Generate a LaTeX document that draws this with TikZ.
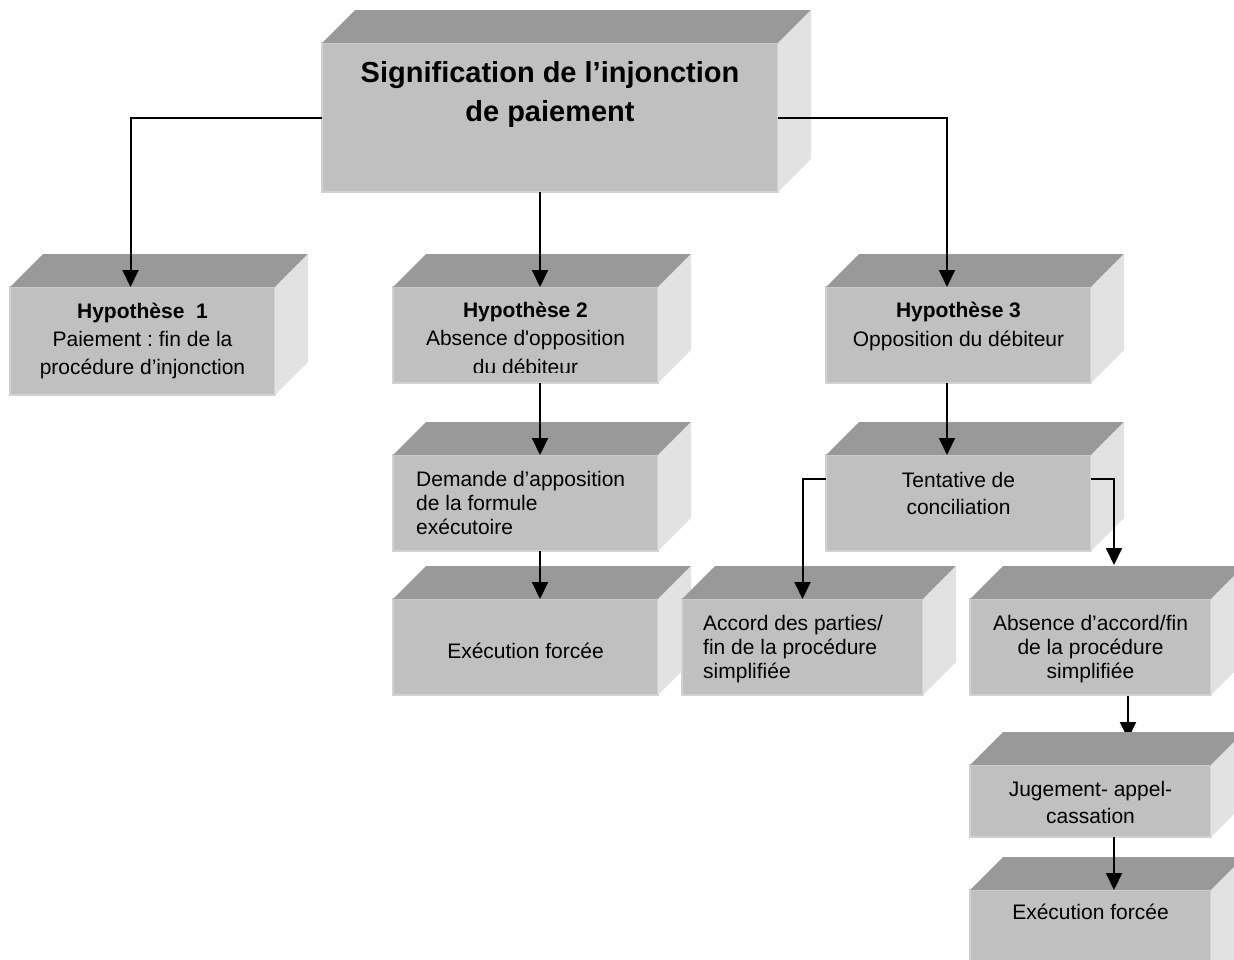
\documentclass[tikz,border=0pt]{standalone}
\usepackage{fontspec}
\setmainfont{Liberation Sans}
\newfontfamily\plainfont{Liberation Sans}
\frenchspacing
\usetikzlibrary{arrows.meta,backgrounds}
\definecolor{facegray}{HTML}{C0C0C0}
\definecolor{topgray}{HTML}{999999}
\definecolor{sidegray}{HTML}{E2E2E2}
\definecolor{edgegray}{HTML}{D2D2D2}
\tikzset{
  boxfront/.style={draw=edgegray, line width=1.2pt, fill=facegray,
                   inner sep=0pt, outer sep=0pt},
  boxtop/.style={fill=topgray},
  boxside/.style={fill=sidegray},
  boxtxt/.style={inner sep=0pt, align=center, font=\fontsize{21}{28}\selectfont},
  link/.style={line width=2pt, -{Triangle[length=17pt,width=16pt]}},
}
% front face as a node, top and side faces drawn from its anchors
\newcommand{\bloc}[4]{%
  \node[boxfront, minimum width=#3, minimum height=#4] (#1) at #2 {};
  \fill[boxtop] (#1.north west) -- ([xshift=33pt,yshift=33pt]#1.north west)
    -- ([xshift=33pt,yshift=33pt]#1.north east) -- (#1.north east) -- cycle;
  \fill[boxside] (#1.north east) -- ([xshift=33pt,yshift=33pt]#1.north east)
    -- ([xshift=33pt,yshift=33pt]#1.south east) -- (#1.south east) -- cycle;
}

\begin{document}
\begin{tikzpicture}[x=1pt, y=-1pt]
  \useasboundingbox (0,0) rectangle (1234,959);
  \clip (0,0) rectangle (1234,959);

  % boxes
  \bloc{sig}{(550,117.5)}{456pt}{149pt}
  \bloc{hyp1}{(142.5,341)}{265pt}{108pt}
  \bloc{hyp2}{(525.5,335)}{265pt}{96pt}
  \bloc{hyp3}{(958.5,335)}{265pt}{96pt}
  \bloc{dem}{(525.5,503)}{265pt}{96pt}
  \bloc{tent}{(958.5,503)}{265pt}{96pt}
  \bloc{exec}{(525.5,647)}{265pt}{96pt}
  \bloc{accord}{(802.5,647)}{241pt}{96pt}
  \bloc{desaccord}{(1090.5,647)}{241pt}{96pt}
  \bloc{jug}{(1090.5,801)}{241pt}{72pt}
  \bloc{execb}{(1090.5,937)}{241pt}{94pt}

  % texts (base = last line)
  \node[boxtxt, anchor=base, font=\fontsize{29}{39}\selectfont\bfseries] (sigt)
    at ([yshift=-78pt]sig.north) {Signification de l’injonction\\de paiement};
  \node[boxtxt, anchor=base] (hyp1t) at ([yshift=-87pt]hyp1.north)
    {\textbf{Hypothèse\ \ 1}\\Paiement : fin de la\\procédure d’injonction};
  \begin{scope}
    \clip (hyp2.north west) rectangle ([yshift=11pt]hyp2.south east);
    \node[boxtxt, anchor=base, font=\fontsize{21}{28.5}\selectfont] (hyp2t)
      at ([yshift=-87pt]hyp2.north)
      {\textbf{Hypothèse 2}\\Absence d{\plainfont '}opposition\\du débiteur};
  \end{scope}
  \node[boxtxt, anchor=base, font=\fontsize{21}{29}\selectfont] (hyp3t)
    at ([yshift=-59pt]hyp3.north) {\textbf{Hypothèse 3}\\Opposition du débiteur};
  \node[boxtxt, anchor=base west, align=left, font=\fontsize{21}{24}\selectfont] (demt)
    at ([xshift=23pt,yshift=-79pt]dem.north west)
    {Demande d’apposition\\de la formule\\exécutoire};
  \node[boxtxt, anchor=base, font=\fontsize{21}{27}\selectfont] (tentt)
    at ([yshift=-59pt]tent.north) {Tentative de\\conciliation};
  \node[boxtxt, anchor=base] (exect) at ([yshift=-11pt]exec.center) {Exécution forcée};
  \node[boxtxt, anchor=base west, align=left, font=\fontsize{21}{24}\selectfont] (accordt)
    at ([xshift=21pt,yshift=-79pt]accord.north west)
    {Accord des parties/\\fin de la procédure\\simplifiée};
  \node[boxtxt, anchor=base, font=\fontsize{21}{24}\selectfont] (desaccordt)
    at ([yshift=-79pt]desaccord.north)
    {Absence d’accord/fin\\de la procédure\\simplifiée};
  \node[boxtxt, anchor=base, font=\fontsize{21}{27}\selectfont] (jugt)
    at ([yshift=-58pt]jug.north) {Jugement- appel-\\cassation};
  \node[boxtxt, anchor=base] (execbt) at ([yshift=-29pt]execb.north) {Exécution forcée};

  % connectors
  \draw[link] (sig.west) -| ([xshift=-12pt]hyp1.north);
  \draw[link] ([xshift=-10pt]sig.south) -- ([xshift=-10pt]sig.south |- hyp2.north);
  \draw[link] (sig.east) -| ([xshift=-11.5pt]hyp3.north);
  \draw[link] ([xshift=14.5pt]hyp2.south) -- ([xshift=14.5pt]dem.north);
  \draw[link] ([xshift=14.5pt]dem.south) -- ([xshift=14.5pt]exec.north);
  \draw[link] ([xshift=-11.5pt]hyp3.south) -- ([xshift=-11.5pt]tent.north);
  \draw[link] ([yshift=24pt]tent.west) -| (accord.north);
  \draw[link] ([yshift=24pt]tent.east) -| ([xshift=23.5pt,yshift=34pt]desaccord.north);
  \begin{pgfonlayer}{background}
    \draw[link] ([xshift=37.5pt]desaccord.south) -- ([xshift=37.5pt,yshift=26pt]jug.north);
  \end{pgfonlayer}
  \draw[link] ([xshift=23.5pt]jug.south) -- ([xshift=23.5pt]execb.north);
\end{tikzpicture}
\end{document}
